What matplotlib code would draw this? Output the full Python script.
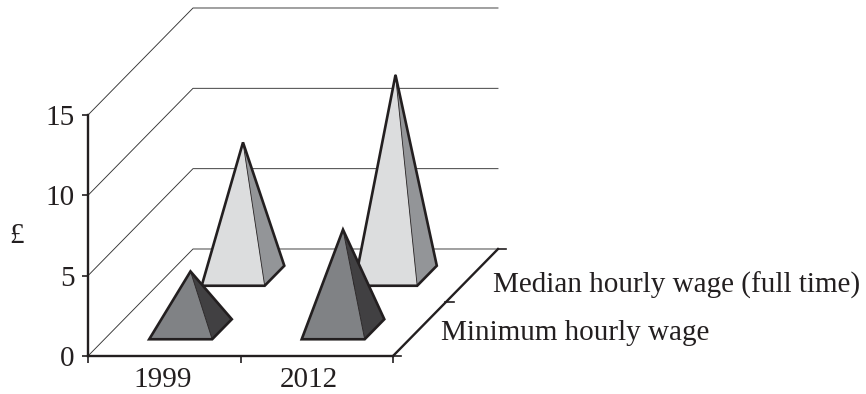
#!/usr/bin/env python3
# -*- coding: utf-8 -*-

import matplotlib.pyplot as plt
from matplotlib.patches import Polygon

plt.rcParams['font.family'] = ['Liberation Serif', 'DejaVu Serif']

years = ['1999', '2012']
series = ['Minimum hourly wage', 'Median hourly wage (full time)']
minimum_wage = [3.6, 6.2]
median_wage = [8.3, 12.5]
y_ticks = [0, 5, 10, 15]

# oblique projection : depth 0 to 1 shifts a point right and up, in data units
depth_x = 0.6885
depth_y = 6.66
series_depth = [0.25, 0.75]
half_width = 0.2065
half_depth = 0.0935

ink = '#231f20'
face_light = ['#808285', '#dcddde']
face_dark = ['#414042', '#939598']


def project(x, depth, z=0):
    return x + depth*depth_x, z + depth*depth_y


def draw_pyramid(ax, x_center, depth, height, light, dark, zorder):
    front_left = project(x_center - half_width, depth - half_depth)
    front_right = project(x_center + half_width, depth - half_depth)
    back_right = project(x_center + half_width, depth + half_depth)
    apex = project(x_center, depth, height)
    ax.add_patch(Polygon([front_left, front_right, apex], closed=True,
                         fc=light, ec='none', zorder=zorder, clip_on=False))
    ax.add_patch(Polygon([front_right, back_right, apex], closed=True,
                         fc=dark, ec='none', zorder=zorder, clip_on=False))
    ax.plot([front_right[0], apex[0]], [front_right[1], apex[1]], color=ink,
            lw=0.6, zorder=zorder, clip_on=False)
    ax.add_patch(Polygon([front_left, front_right, back_right, apex], closed=True,
                         fc='none', ec=ink, lw=1.9, joinstyle='miter',
                         zorder=zorder, clip_on=False))


fig = plt.figure(figsize=(8.66, 3.94), dpi=100)
ax = fig.add_axes([88/866, (394 - 356)/394, 305/866, 241/394])
ax.set_xlim(0, 2)
ax.set_ylim(0, 15)
ax.patch.set_visible(False)

for side in ['top', 'right']:
    ax.spines[side].set_visible(False)
for side in ['left', 'bottom']:
    ax.spines[side].set_linewidth(1.7)
    ax.spines[side].set_color(ink)

ax.set_yticks(y_ticks)
ax.set_xticks([0, 1, 2])
ax.set_xticklabels([])
ax.set_xticks([0.49, 1.45], labels=years, minor=True)
ax.tick_params(axis='y', length=4.5, width=1.2, color=ink, labelcolor=ink,
               labelsize=21, pad=5)
ax.tick_params(axis='x', which='major', length=5, width=1.2, color=ink)
ax.tick_params(axis='x', which='minor', length=0, labelcolor=ink, labelsize=21, pad=8)

ax.set_ylabel('£', rotation=0, fontsize=21, color=ink, va='center')
ax.yaxis.set_label_coords(-0.233, 0.498)

# walls : diagonal up from the y axis, then horizontal along the back
for v in y_ticks:
    back_left = project(0, 1, v)
    back_right = project(2, 1, v)
    ax.plot([0, back_left[0], back_right[0]], [v, back_left[1], back_right[1]],
            color='#333333', lw=0.65, zorder=1, clip_on=False)

# right edge of the floor, with its depth ticks
front = project(2, 0)
back = project(2, 1)
middle = project(2, 0.5)
ax.plot([front[0], back[0]], [front[1], back[1]], color=ink, lw=1.7, zorder=2, clip_on=False)
for p in [front, middle, back]:
    ax.plot([p[0], p[0] + 0.055], [p[1], p[1]], color=ink, lw=1.2, zorder=2, clip_on=False)

values = [minimum_wage, median_wage]
for s in [1, 0]:
    for i in range(len(years)):
        draw_pyramid(ax, i + 0.5, series_depth[s], values[s][i],
                     face_light[s], face_dark[s], zorder=3 + (1 - s))

ax.text(2.313, 1.42, series[0], fontsize=21, color=ink, ha='left', va='center', clip_on=False)
ax.text(2.658, 4.38, series[1], fontsize=21, color=ink, ha='left', va='center', clip_on=False)

fig.savefig('out.png', dpi=100)
